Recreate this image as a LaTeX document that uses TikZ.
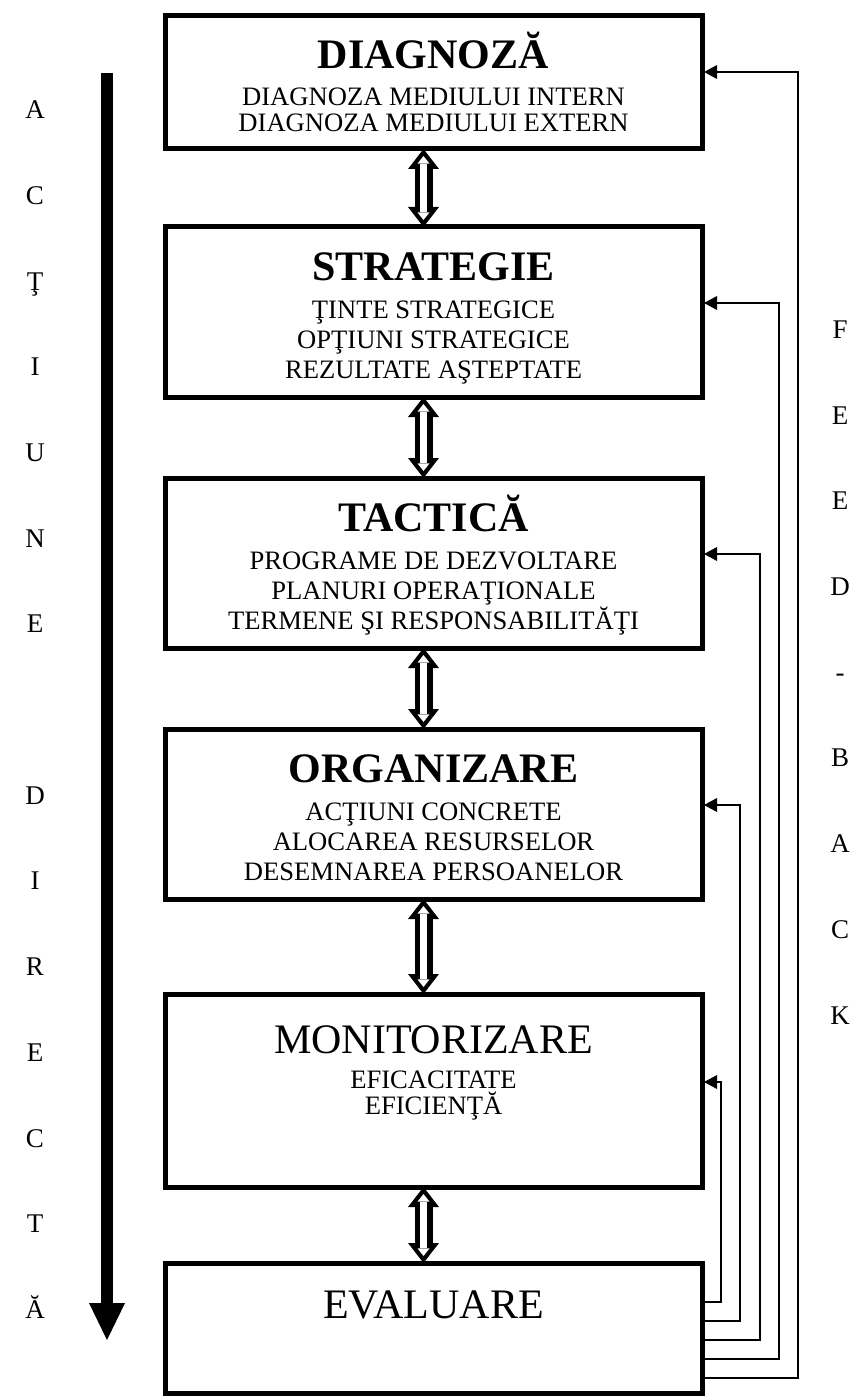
\documentclass[tikz,border=0pt]{standalone}
\usepackage{fontspec}
\setmainfont{Liberation Serif}
\usetikzlibrary{arrows.meta, positioning, calc}
\newcommand{\hd}{\fontsize{21pt}{24pt}\selectfont}
\newcommand{\subtxt}[1]{\fontsize{13.3pt}{#1}\selectfont}
\newcommand{\twoway}[2]{%
  \draw[linkout] ([xshift=-5pt]#1.south) -- ([xshift=-5pt]#2.north);
  \draw[linkin] ([xshift=-5pt]#1.south) -- ([xshift=-5pt]#2.north);}

\begin{document}
\begin{tikzpicture}[
  x=1pt, y=1pt,
  stagebox/.style={draw, line width=2.5pt, inner sep=0pt, outer sep=0pt,
                   anchor=north},
  linkout/.style={line width=9pt,
    {Triangle[length=10pt,width=15.5pt,line width=0pt]}-{Triangle[length=10pt,width=15.5pt,line width=0pt]}},
  linkin/.style={white, line width=3.6pt, shorten <=3.5pt, shorten >=3.5pt,
    {Triangle[length=3.8pt,width=6pt,line width=0pt]}-{Triangle[length=3.8pt,width=6pt,line width=0pt]}},
  fb/.style={line width=1.4pt, shorten >=1pt, -{Triangle[length=6.5pt,width=7pt,line width=0pt]}},
  letters/.style={align=center, inner sep=0pt, anchor=north,
                  font=\fontsize{13.5pt}{42.85pt}\selectfont},
]
\useasboundingbox (0,0) rectangle (433.5,-698);

% ---------- stages ----------
\node[stagebox] (diag) at (216.75,-8)
  {\parbox[t][66.5pt][t]{268.5pt}{\centering\subtxt{13pt}\rule{0pt}{26.5pt}{\hd\bfseries DIAGNOZĂ}\\[5.5pt]
   DIAGNOZA MEDIULUI INTERN\\
   DIAGNOZA MEDIULUI EXTERN}};

\node[stagebox, below=39pt of diag] (strat)
  {\parbox[t][85pt][t]{268.5pt}{\centering\subtxt{15pt}\rule{0pt}{26.5pt}{\hd\bfseries STRATEGIE}\\[4pt]
   ŢINTE STRATEGICE\\
   OPŢIUNI STRATEGICE\\
   REZULTATE AŞTEPTATE}};

\node[stagebox, below=40.5pt of strat] (tact)
  {\parbox[t][85pt][t]{268.5pt}{\centering\subtxt{15pt}\rule{0pt}{26.5pt}{\hd\bfseries TACTICĂ}\\[4pt]
   PROGRAME DE DEZVOLTARE\\
   PLANURI OPERAŢIONALE\\
   TERMENE ŞI RESPONSABILITĂŢI}};

\node[stagebox, below=40.5pt of tact] (org)
  {\parbox[t][85pt][t]{268.5pt}{\centering\subtxt{15pt}\rule{0pt}{26.5pt}{\hd\bfseries ORGANIZARE}\\[4pt]
   ACŢIUNI CONCRETE\\
   ALOCAREA RESURSELOR\\
   DESEMNAREA PERSOANELOR}};

\node[stagebox, below=47.5pt of org] (moni)
  {\parbox[t][96.5pt][t]{268.5pt}{\centering\subtxt{13pt}\rule{0pt}{29.5pt}{\hd MONITORIZARE}\\[4.5pt]
   EFICACITATE\\
   EFICIENŢĂ}};

\node[stagebox, below=38pt of moni] (eval)
  {\parbox[t][65pt][t]{268.5pt}{\centering\rule{0pt}{27.5pt}{\hd EVALUARE}}};

% ---------- two-way links ----------
\twoway{diag}{strat}
\twoway{strat}{tact}
\twoway{tact}{org}
\twoway{org}{moni}
\twoway{moni}{eval}

% ---------- feedback lines ----------
\draw[fb] ([yshift=-19.5pt]eval.north east) -- ++(9.5,0) |- ([yshift=-44pt]moni.north east);
\draw[fb] ([yshift=-29pt]eval.north east) -- ++(19,0) |- ([yshift=-38pt]org.north east);
\draw[fb] ([yshift=-38.5pt]eval.north east) -- ++(29,0) |- ([yshift=-38pt]tact.north east);
\draw[fb] ([yshift=-48pt]eval.north east) -- ++(38.5,0) |- ([yshift=-38pt]strat.north east);
\draw[fb] ([yshift=-57.5pt]eval.north east) -- ++(48,0) |- ([yshift=-28pt]diag.north east);

% ---------- direct action arrow ----------
\coordinate (acttop) at (53.5,-36.5);
\coordinate (actend) at (53.5,-670);
\draw[line width=6pt, -{Triangle[length=18.5pt,width=18pt,line width=0pt]}] (acttop) -- (actend);

\node[letters] (act) at (17.5,-50.2)
  {A\\ C\\ Ţ\\ I\\ U\\ N\\ E\\[42.85pt] D\\ I\\ R\\ E\\ C\\ T\\ Ă};
\node[letters] (feed) at (420,-160.2)
  {F\\ E\\ E\\ D\\ -\\ B\\ A\\ C\\ K};

\end{tikzpicture}
\end{document}
